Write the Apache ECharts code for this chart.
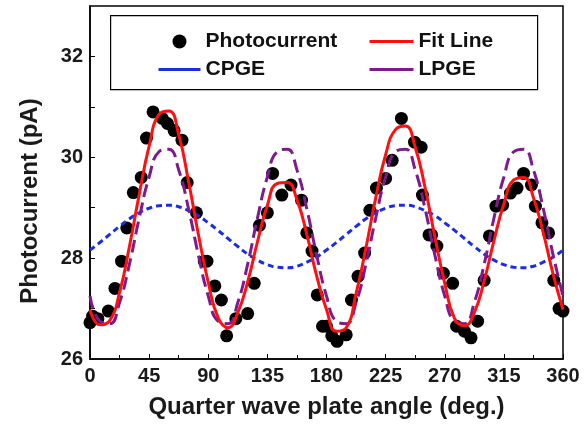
<!DOCTYPE html>
<html>
<head>
<meta charset="utf-8">
<script src="https://cdn.jsdelivr.net/npm/echarts@6/dist/echarts.min.js"></script>
<style>html,body{margin:0;padding:0;background:#fff}#c{width:585px;height:436px}</style>
</head>
<body>
<div id="c"></div>
<script>
// Measured photocurrent points: angle (deg), current (pA)
const photoAngle = [0,2,6,14,19,24,28,33,39,43,48,55,59,64,70,74,81,87,
  89,95,100,104,111,120,125,129,135,139,146,153,161,165,169,173,177,
  180,184,188,195,199,204,209,213,218,225,230,237,247,252,253,258,
  260,264,269,276,279,285,290,295,300,304,309,314,320,325,330,336,339,344,349,353,357,360];
const photoValue = [26.72,26.85,26.8,26.95,27.4,27.94,28.6,29.3,29.6,30.38,30.9,30.77,30.67,30.53,30.34,29.5,28.9,27.94,
  27.94,27.45,27.17,26.46,26.8,26.9,27.5,28.65,28.9,29.68,29.25,29.45,29.15,28.5,28.14,27.27,26.65,
  26.65,26.46,26.35,26.48,27.17,27.64,28.1,28.95,29.39,29.58,29.94,30.77,30.3,30.2,29.25,28.46,
  28.46,28.24,27.7,27.5,26.65,26.55,26.42,26.75,27.56,28.44,29.03,29.05,29.29,29.39,29.68,29.45,29.03,28.7,28.5,27.56,27.0,26.95];

// Curve sample angles every 7.5 deg
const curveAngle = [0,7.5,15,22.5,30,37.5,45,52.5,60,67.5,75,82.5,90,97.5,105,112.5,120,127.5,135,142.5,150,157.5,165,172.5,
  180,187.5,195,202.5,210,217.5,225,232.5,240,247.5,255,262.5,270,277.5,285,292.5,300,307.5,315,322.5,330,337.5,345,352.5,360];
const fitValue = [26.98,26.68,26.76,27.32,28.23,29.27,30.22,30.85,30.92,30.45,29.52,28.47,27.52,26.82,26.62,26.92,27.53,28.33,29.05,29.48,29.5,29.16,28.47,27.65,
  26.98,26.55,26.62,27.3,28.2,29.2,30.05,30.55,30.62,30.2,29.4,28.42,27.5,26.8,26.66,26.92,27.55,28.35,29.08,29.55,29.6,29.2,28.5,27.68,26.98];
const cpgeValue = [28.16,28.31,28.47,28.63,28.78,28.9,28.99,29.04,29.05,29.02,28.94,28.84,28.7,28.55,28.39,28.23,28.08,27.96,27.87,27.82,27.81,27.84,27.92,28.02,
  28.16,28.31,28.47,28.63,28.78,28.9,28.99,29.04,29.05,29.02,28.94,28.84,28.7,28.55,28.39,28.23,28.08,27.96,27.87,27.82,27.81,27.84,27.92,28.02,28.16];
const lpgeValue = [27.25,26.75,26.7,27.12,27.88,28.8,29.61,30.11,30.16,29.75,28.98,28.06,27.25,26.75,26.7,27.12,27.88,28.8,29.61,30.11,30.16,29.75,28.98,28.06,
  27.25,26.75,26.7,27.12,27.88,28.8,29.61,30.11,30.16,29.75,28.98,28.06,27.25,26.75,26.7,27.12,27.88,28.8,29.61,30.11,30.16,29.75,28.98,28.06,27.25];

const xTicks = [0,45,90,135,180,225,270,315,360];
const yTicks = [26,28,30,32];

const zip = (a,b) => a.map((v,i)=>[v,b[i]]);
const FONT = '"Liberation Sans", Arial, sans-serif';
const lineItem = name => ({name:name, itemStyle:{opacity:0}});

const chart = echarts.init(document.getElementById('c'), null, {renderer:'canvas'});
chart.setOption({
  animation:false,
  backgroundColor:'#fff',
  grid:{left:90,right:22,top:6,bottom:77,show:true,borderColor:'#000',borderWidth:1.5,backgroundColor:'transparent'},
  xAxis:{type:'value',min:0,max:360,interval:45,
    name:'Quarter wave plate angle (deg.)',nameLocation:'middle',nameGap:36,
    nameTextStyle:{fontFamily:FONT,fontWeight:'bold',fontSize:24,color:'#1a1a1a'},
    axisLine:{lineStyle:{color:'#000',width:1.5}},
    axisTick:{inside:true,length:5,lineStyle:{color:'#000'}},
    minorTick:{show:true,splitNumber:2,length:4,lineStyle:{color:'#000'}},
    splitLine:{show:false},
    axisLabel:{fontFamily:FONT,fontWeight:'bold',fontSize:20,color:'#1a1a1a',margin:7,
      formatter:v=>xTicks.includes(v)?String(v):''}},
  yAxis:{type:'value',min:26,max:33,interval:1,
    axisLine:{lineStyle:{color:'#000',width:1.5}},
    axisTick:{inside:true,length:5,lineStyle:{color:'#000'}},
    splitLine:{show:false},
    axisLabel:{fontFamily:FONT,fontWeight:'bold',fontSize:20,color:'#1a1a1a',margin:7,
      showMaxLabel:false,
      formatter:v=>yTicks.includes(v)?String(v):''}},
  legend:[
    {left:157,top:31,padding:0,orient:'vertical',itemWidth:42,itemHeight:14,itemGap:7,
     data:['Photocurrent',lineItem('CPGE')],
     textStyle:{fontFamily:FONT,fontWeight:'bold',fontSize:21,color:'#111'},
     lineStyle:{type:'solid',width:3}},
    {left:368,top:31,padding:0,orient:'vertical',itemWidth:44,itemHeight:14,itemGap:7,
     data:[lineItem('Fit Line'),lineItem('LPGE')],
     textStyle:{fontFamily:FONT,fontWeight:'bold',fontSize:21,color:'#111'},
     lineStyle:{type:'solid',width:3}}
  ],
  graphic:[
    {type:'rect',left:110,top:15,z:0,shape:{width:427,height:74},
     style:{fill:'#fff',stroke:'#000',lineWidth:1.2}},
    {type:'text',x:30,y:201,rotation:Math.PI/2,z:10,
     style:{text:'Photocurrent (pA)',font:'bold 24px "Liberation Sans", Arial, sans-serif',
       fill:'#1a1a1a',textAlign:'center',textVerticalAlign:'middle'}}
  ],
  series:[
    {name:'Photocurrent',type:'scatter',data:zip(photoAngle,photoValue),symbol:'circle',symbolSize:13,
     itemStyle:{color:'#000',opacity:1},z:2},
    {name:'CPGE',type:'line',data:zip(curveAngle,cpgeValue),smooth:true,showSymbol:false,symbol:'none',
     lineStyle:{color:'#1a2ee0',width:3,type:[6,4]},itemStyle:{color:'#1a2ee0'},z:3},
    {name:'LPGE',type:'line',data:zip(curveAngle,lpgeValue),smooth:true,showSymbol:false,symbol:'none',
     lineStyle:{color:'#7d1a8c',width:3,type:[13,6]},itemStyle:{color:'#7d1a8c'},z:4},
    {name:'Fit Line',type:'line',data:zip(curveAngle,fitValue),smooth:true,showSymbol:false,symbol:'none',
     lineStyle:{color:'#ff1010',width:3},itemStyle:{color:'#ff1010'},z:5}
  ]
});
</script>
</body>
</html>
